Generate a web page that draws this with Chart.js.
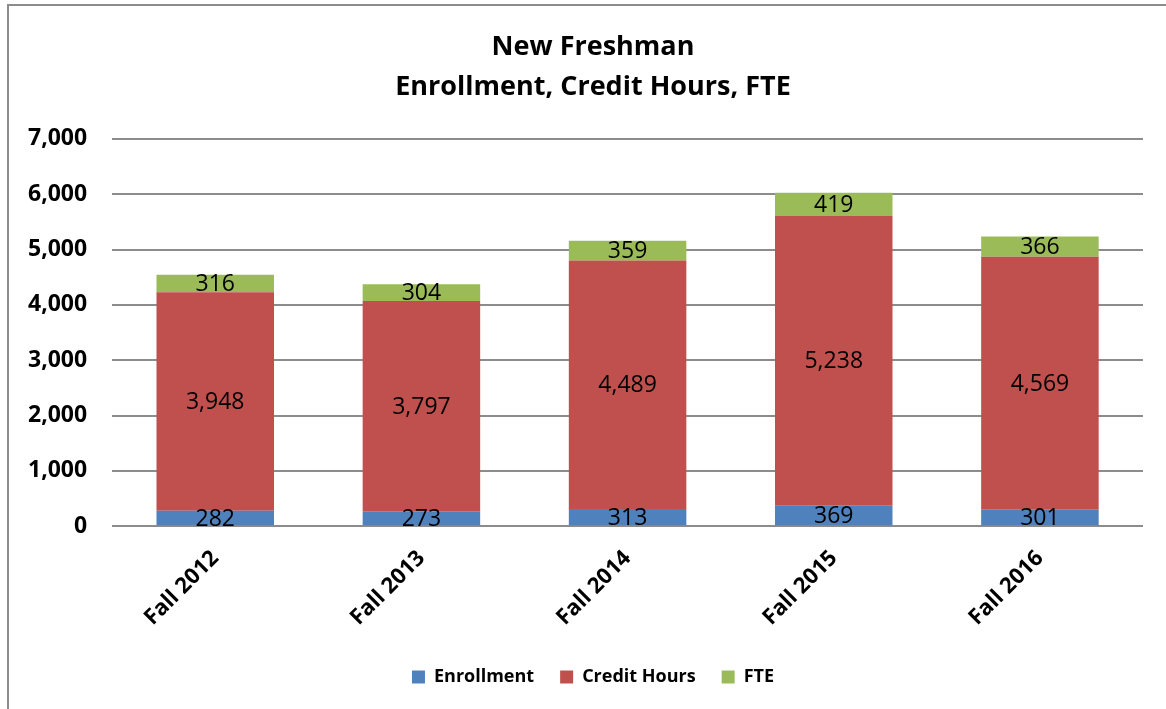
<!DOCTYPE html>
<html lang="en">
<head>
  <meta charset="UTF-8">
  <script src="https://cdn.jsdelivr.net/npm/chart.js"></script>
  <title>New Freshman</title>
  <style>
    body { margin: 0; background: #fff; }
    #wrap { position: relative; width: 1166px; height: 709px; }
    #frame { position: absolute; left: 7px; top: 4px; width: 1170px; height: 720px; border: 2px solid #8c8c8c; pointer-events: none; }
    canvas { position: absolute; left: 0; top: 0; }
  </style>
</head>
<body>
  <div id="wrap">
    <canvas id="grafico" width="1166" height="709"></canvas>
    <div id="frame"></div>
  </div>
  <script>
    const categorias = ["Fall 2012", "Fall 2013", "Fall 2014", "Fall 2015", "Fall 2016"];
    const enrollment = [282, 273, 313, 369, 301];
    const creditHours = [3948, 3797, 4489, 5238, 4569];
    const fte = [316, 304, 359, 419, 366];
    const yTicks = [0, 1000, 2000, 3000, 4000, 5000, 6000, 7000];

    const fonte = "'Open Sans', Lato, sans-serif";

    // valores no meio de cada segmento
    const rotulos = {
      id: 'rotulos',
      afterDatasetsDraw(chart) {
        const c = chart.ctx;
        c.save();
        c.font = "23px " + fonte;
        c.fillStyle = "#000";
        c.textAlign = "center";
        c.textBaseline = "middle";
        chart.data.datasets.forEach((ds, i) => {
          chart.getDatasetMeta(i).data.forEach((bar, j) => {
            const y = (bar.y + bar.base) / 2 + 1;
            c.fillText(ds.data[j].toLocaleString('en-US'), bar.x, y);
          });
        });
        c.restore();
      }
    };

    // titulo e legenda um pouco mais para a direita
    const desloca = {
      id: 'desloca',
      afterLayout(chart) {
        [chart.titleBlock, chart.legend].forEach(b => {
          if (b) { b.left += 20; b.right += 20; }
        });
      }
    };

    const ctx = document.getElementById('grafico');
    new Chart(ctx, {
      type: 'bar',
      data: {
        labels: categorias,
        datasets: [
          { label: 'Enrollment', data: enrollment, backgroundColor: '#4F81BD' },
          { label: 'Credit Hours', data: creditHours, backgroundColor: '#C0504D' },
          { label: 'FTE', data: fte, backgroundColor: '#9BBB59' }
        ]
      },
      options: {
        responsive: false,
        animation: false,
        layout: { padding: { left: 3, right: 23, top: 21, bottom: 13 } },
        datasets: { bar: { categoryPercentage: 1, barPercentage: 0.57 } },
        plugins: {
          title: {
            display: true,
            text: ['New Freshman', 'Enrollment, Credit Hours, FTE'],
            color: '#000',
            font: { family: fonte, size: 27, weight: 'bold', lineHeight: 1.48 },
            padding: { top: 6, bottom: 32 }
          },
          legend: {
            position: 'bottom',
            labels: {
              color: '#000',
              boxWidth: 13,
              boxHeight: 13,
              padding: 26,
              font: { family: fonte, size: 18, weight: 'bold' }
            }
          },
          tooltip: { enabled: false }
        },
        scales: {
          x: {
            stacked: true,
            grid: { display: false },
            border: { display: false },
            afterFit: (axis) => { axis.paddingLeft = 0; axis.paddingRight = 0; },
            ticks: {
              color: '#000',
              maxRotation: 45,
              minRotation: 45,
              padding: 11,
              font: { family: fonte, size: 22, weight: 'bold' }
            }
          },
          y: {
            stacked: true,
            min: 0,
            max: 7000,
            afterBuildTicks: (axis) => { axis.ticks = yTicks.map(v => ({ value: v })); },
            grid: { color: '#8c8c8c', lineWidth: 2, drawTicks: false },
            border: { display: false },
            ticks: {
              color: '#000',
              padding: 25,
              font: { family: fonte, size: 23, weight: 'bold' },
              callback: (v) => v.toLocaleString('en-US')
            }
          }
        }
      },
      plugins: [rotulos, desloca]
    });
  </script>
</body>
</html>
